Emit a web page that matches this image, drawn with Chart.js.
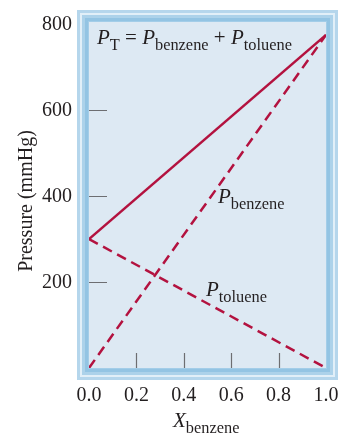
<!DOCTYPE html>
<html>
<head>
<meta charset="utf-8">
<script src="https://cdn.jsdelivr.net/npm/chart.js@4/dist/chart.umd.min.js"></script>
<style>
  html, body { margin: 0; padding: 0; background: #fff; }
  #wrap { width: 339px; height: 433px; }
</style>
</head>
<body>
<div id="wrap"><canvas id="chart" width="339" height="433"></canvas></div>
<script>
/* ── Data (mole fraction of benzene vs. vapour pressure) ── */
const X_BENZENE  = [0, 1];
const P_TOTAL    = [300, 775];
const P_BENZENE  = [0, 775];
const P_TOLUENE  = [300, 0];
const X_TICKS    = [0, 0.2, 0.4, 0.6, 0.8, 1.0];
const Y_TICKS    = [200, 400, 600, 800];

const LINE  = '#b3123f';
const INK   = '#231f20';
const SERIF = '"Liberation Serif", "DejaVu Serif", serif';

const pts = ys => X_BENZENE.map((x, i) => ({ x, y: ys[i] }));

/* ── Draw a run of text with italic / subscript pieces ── */
function richText(ctx, x, y, parts, size) {
  ctx.save();
  ctx.fillStyle = INK;
  ctx.textBaseline = 'alphabetic';
  ctx.textAlign = 'left';
  parts.forEach(p => {
    const sz = p.sub ? size * 0.78 : size;
    ctx.font = `${p.it ? 'italic ' : ''}${sz}px ${SERIF}`;
    ctx.fillText(p.t, x, y + (p.sub ? size * 0.3 : 0));
    x += ctx.measureText(p.t).width;
  });
  ctx.restore();
}

/* ── Framed panel behind the plot, tick marks, labels ── */
const framePlugin = {
  id: 'frame',
  beforeDraw(chart) {
    const { ctx, chartArea: a } = chart;
    // outer → inner bands of the picture frame
    const bands = [
      [12, '#b5d6ec'],
      [9,  '#e1eff8'],
      [7,  '#acd2ea'],
      [4,  '#93c4e3'],
      [1,  '#a3cde8'],
    ];
    ctx.save();
    bands.forEach(([o, c]) => {
      ctx.fillStyle = c;
      ctx.fillRect(a.left - o, a.top - o, a.width + 2 * o, a.height + 2 * o);
    });
    ctx.fillStyle = '#dde9f3';
    ctx.fillRect(a.left, a.top, a.width, a.height);

    // short tick marks inside the panel
    const xs = chart.scales.x, ys = chart.scales.y;
    ctx.strokeStyle = '#6d6e71';
    ctx.lineWidth = 1.2;
    ctx.beginPath();
    Y_TICKS.filter(v => v < 800).forEach(v => {
      const py = Math.round(ys.getPixelForValue(v)) + 0.5;
      ctx.moveTo(a.left, py); ctx.lineTo(a.left + 18, py);
    });
    X_TICKS.filter(v => v > 0 && v < 1).forEach(v => {
      const px = Math.round(xs.getPixelForValue(v)) + 0.5;
      ctx.moveTo(px, a.bottom); ctx.lineTo(px, a.bottom - 15);
    });
    ctx.stroke();

    // tick labels
    ctx.fillStyle = INK;
    ctx.font = `20px ${SERIF}`;
    ctx.textBaseline = 'middle';
    ctx.textAlign = 'right';
    ys.ticks.forEach(t => ctx.fillText(String(t.value), 72, ys.getPixelForValue(t.value) + 1));
    ctx.textAlign = 'center';
    xs.ticks.forEach(t => ctx.fillText(t.value.toFixed(1), xs.getPixelForValue(t.value), 396));
    ctx.restore();
  },
  afterDraw(chart) {
    const { ctx } = chart;
    richText(ctx, 97, 44, [
      { t: 'P', it: true }, { t: 'T', sub: true }, { t: ' = ' },
      { t: 'P', it: true }, { t: 'benzene', sub: true }, { t: ' + ' },
      { t: 'P', it: true }, { t: 'toluene', sub: true },
    ], 21);
    richText(ctx, 218, 203, [{ t: 'P', it: true }, { t: 'benzene', sub: true }], 21);
    richText(ctx, 206, 296, [{ t: 'P', it: true }, { t: 'toluene', sub: true }], 21);
    richText(ctx, 173, 427, [{ t: 'X', it: true }, { t: 'benzene', sub: true }], 21);

    // y-axis title
    ctx.save();
    ctx.translate(32, 201);
    ctx.rotate(-Math.PI / 2);
    ctx.font = `20px ${SERIF}`;
    ctx.fillStyle = INK;
    ctx.textAlign = 'center';
    ctx.textBaseline = 'alphabetic';
    ctx.fillText('Pressure (mmHg)', 0, 0);
    ctx.restore();
  },
};

const lineDs = (label, ys, dash) => ({
  label,
  data: pts(ys),
  borderColor: LINE,
  borderWidth: 2.5,
  borderDash: dash,
  pointRadius: 0,
  fill: false,
  tension: 0,
});

new Chart(document.getElementById('chart'), {
  type: 'line',
  data: {
    datasets: [
      lineDs('P_T', P_TOTAL, []),
      lineDs('P_benzene', P_BENZENE, [10, 6]),
      lineDs('P_toluene', P_TOLUENE, [10, 6]),
    ],
  },
  options: {
    responsive: false,
    animation: false,
    layout: { padding: { left: 0, right: 13, top: 22, bottom: 0 } },
    plugins: { legend: { display: false }, tooltip: { enabled: false } },
    scales: {
      x: {
        type: 'linear',
        min: 0, max: 1,
        afterBuildTicks: s => { s.ticks = X_TICKS.map(v => ({ value: v })); },
        afterFit: s => { s.height = 65; },
        grid: { display: false, drawTicks: false },
        border: { display: false },
        ticks: { display: false },
      },
      y: {
        min: 0, max: 805,
        afterBuildTicks: s => { s.ticks = Y_TICKS.map(v => ({ value: v })); },
        afterFit: s => { s.width = 89; },
        grid: { display: false, drawTicks: false },
        border: { display: false },
        ticks: { display: false },
      },
    },
  },
  plugins: [framePlugin],
});
</script>
</body>
</html>
